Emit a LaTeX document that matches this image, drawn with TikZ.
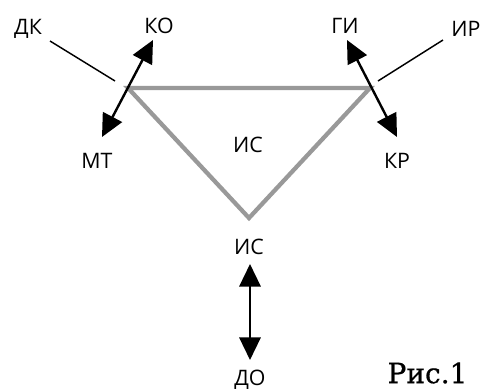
\documentclass[tikz,border=0pt]{standalone}
\usepackage{fontspec}
\setmainfont{Open Sans}
\newfontfamily\captionfont[FakeBold=0.6]{DejaVu Serif}
\usetikzlibrary{arrows.meta}
\begin{document}
\begin{tikzpicture}[x=0.75pt,y=-0.75pt,
  lbl/.style={inner sep=0pt,font=\fontsize{16}{18}\selectfont},
  edge/.style={draw=gray!80,line width=3.2pt,line join=miter},
  dbl/.style={line width=1.8pt,{Triangle[length=17pt,width=16pt]}-{Triangle[length=17pt,width=16pt]}},
  thin/.style={line width=1.1pt}]
\useasboundingbox (0,0) rectangle (480,390);
% triangle of the system
\coordinate (A) at (128,88);
\coordinate (B) at (370,88);
\coordinate (C) at (249,218);
\draw[edge] (A) -- (B) -- (C) -- cycle;
% labels
\node[lbl] (dk) at (28,29) {ДК};
\node[lbl] (ko) at (159,26) {КО};
\node[lbl] (mt) at (97,161) {МТ};
\node[lbl] (gi) at (345,26) {ГИ};
\node[lbl] (ir) at (466,29) {ИР};
\node[lbl] (kr) at (397,161) {КР};
\node[lbl] (isin) at (248,145) {ИС};
\node[lbl] (isout) at (249,247) {ИС};
\node[lbl,anchor=base] (do) at (250,385) {ДО};
\node[inner sep=0pt,font=\captionfont\fontsize{21}{25}\selectfont] (fig) at (427.5,373) {Рис.1};
% arrow ends
\coordinate (koT) at (153,40);
\coordinate (mtT) at (102,137);
\coordinate (giT) at (347,40);
\coordinate (krT) at (397,137);
\coordinate (isT) at (250,264);
\coordinate (doT) at (250,360);
\coordinate (dkA) at (50,41);
\coordinate (dkB) at (115,81);
\coordinate (irA) at (443,40);
\coordinate (irB) at (378,81);
% connectors
\draw[dbl] (mtT) -- (koT);
\draw[dbl] (giT) -- (krT);
\draw[dbl] (isT) -- (doT);
\draw[thin] (dkA) -- (dkB);
\draw[thin] (irA) -- (irB);
\end{tikzpicture}
\end{document}
